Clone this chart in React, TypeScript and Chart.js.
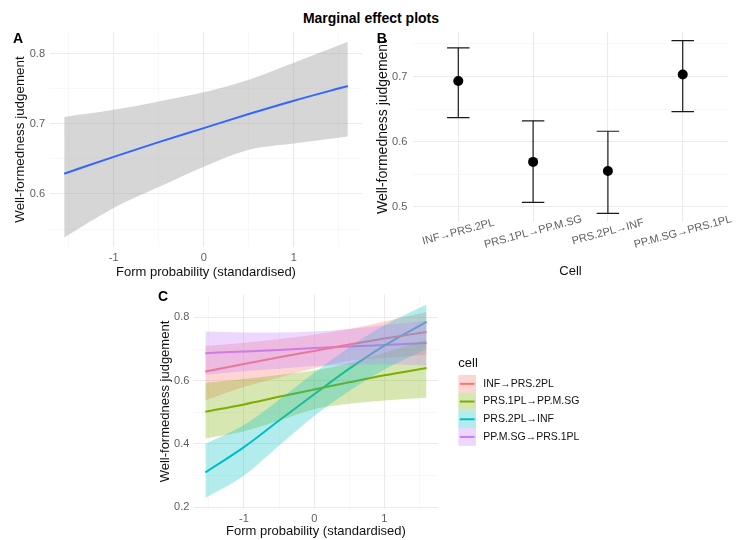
import React, { useEffect, useRef } from 'react';
import { Chart, registerables } from 'chart.js';

Chart.register(...registerables);

const FONT = "'Liberation Sans', Arial, Helvetica, sans-serif";
const TICK_COLOR = '#5E5E5E';
const TICK_SIZE = 11;
const GRID_MAJOR = '#EBEBEB';
const GRID_MINOR = '#F4F4F4';

// ---------- shared x values (form probability, standardised) ----------
const formProb = [-1.55, -1, -0.5, 0, 0.5, 1, 1.6];
const xTicksForm = [-1.5, -1, -0.5, 0, 0.5, 1, 1.5];
const xLabelsForm = [-1, 0, 1];

// ---------- Panel A ----------
const fitOverall = [0.629, 0.653, 0.674, 0.694, 0.714, 0.733, 0.754];
const upperOverall = [0.71, 0.72, 0.732, 0.745, 0.763, 0.787, 0.817];
const lowerOverall = [0.538, 0.58, 0.61, 0.639, 0.663, 0.672, 0.682];
const yTicksA = [0.55, 0.6, 0.65, 0.7, 0.75, 0.8];
const yLabelsA = [0.6, 0.7, 0.8];

// ---------- Panel B ----------
const cells = ['INF→PRS.2PL', 'PRS.1PL→PP.M.SG', 'PRS.2PL→INF', 'PP.M.SG→PRS.1PL'];
const cellEstimate = [0.693, 0.569, 0.555, 0.703];
const cellLower = [0.637, 0.507, 0.49, 0.646];
const cellUpper = [0.744, 0.632, 0.616, 0.755];
const yTicksB = [0.5, 0.55, 0.6, 0.65, 0.7, 0.75];
const yLabelsB = [0.5, 0.6, 0.7];

// ---------- Panel C ----------
const fitInfPrs2pl = [0.629, 0.653, 0.674, 0.694, 0.714, 0.733, 0.754];
const upInfPrs2pl = [0.71, 0.72, 0.732, 0.745, 0.763, 0.787, 0.817];
const loInfPrs2pl = [0.538, 0.58, 0.61, 0.639, 0.663, 0.672, 0.682];

const fitPrs1plPpMsg = [0.502, 0.525, 0.549, 0.572, 0.595, 0.617, 0.64];
const upPrs1plPpMsg = [0.593, 0.605, 0.618, 0.632, 0.655, 0.688, 0.73];
const loPrs1plPpMsg = [0.417, 0.44, 0.474, 0.51, 0.527, 0.537, 0.546];

const fitPrs2plInf = [0.31, 0.39, 0.474, 0.557, 0.638, 0.711, 0.786];
const upPrs2plInf = [0.401, 0.46, 0.54, 0.625, 0.705, 0.775, 0.841];
const loPrs2plInf = [0.229, 0.3, 0.395, 0.488, 0.567, 0.635, 0.7];

const fitPpMsgPrs1pl = [0.687, 0.692, 0.697, 0.703, 0.708, 0.713, 0.719];
const upPpMsgPrs1pl = [0.755, 0.752, 0.752, 0.755, 0.763, 0.775, 0.79];
const loPpMsgPrs1pl = [0.619, 0.63, 0.638, 0.646, 0.65, 0.652, 0.648];

const yTicksC = [0.2, 0.3, 0.4, 0.5, 0.6, 0.7, 0.8];
const yLabelsC = [0.2, 0.4, 0.6, 0.8];

const CELL_COLORS = ['#F8766D', '#7CAE00', '#00BFC4', '#C77CFF'];
const RIBBON_ALPHA = 0.3;

function rgba(hex: string, a: number) {
  const n = parseInt(hex.slice(1), 16);
  return `rgba(${(n >> 16) & 255},${(n >> 8) & 255},${n & 255},${a})`;
}

function fmt(v: number) {
  return String(Math.round(v * 100) / 100);
}

function pts(xs: number[], ys: number[]) {
  return xs.map((x, i) => ({ x, y: ys[i] }));
}

type AxisOpts = {
  min: number;
  max: number;
  ticks: number[];
  labels: number[];
  size: number;
  title: string;
  titleSize: number;
  titlePad: number;
  tickPad: number;
  showTickLabels?: boolean;
};

function linearAxis(dir: 'x' | 'y', o: AxisOpts): any {
  return {
    type: 'linear',
    position: dir === 'x' ? 'bottom' : 'left',
    min: o.min,
    max: o.max,
    afterBuildTicks: (s: any) => {
      s.ticks = o.ticks.map((v) => ({ value: v }));
    },
    afterFit: (s: any) => {
      if (dir === 'x') s.height = o.size;
      else s.width = o.size;
    },
    grid: {
      drawTicks: false,
      color: (c: any) => (c.tick && o.labels.includes(c.tick.value) ? GRID_MAJOR : GRID_MINOR),
      lineWidth: (c: any) => (c.tick && o.labels.includes(c.tick.value) ? 1.1 : 0.6),
    },
    border: { display: false },
    ticks: {
      display: o.showTickLabels !== false,
      autoSkip: false,
      maxRotation: 0,
      minRotation: 0,
      padding: o.tickPad,
      color: TICK_COLOR,
      font: { family: FONT, size: TICK_SIZE },
      callback: (v: number) => (o.labels.includes(v) ? fmt(v) : ''),
    },
    title: {
      display: true,
      text: o.title,
      color: '#111111',
      font: { family: FONT, size: o.titleSize },
      padding: dir === 'x' ? { top: 0, bottom: o.titlePad } : { top: o.titlePad, bottom: 0 },
    },
  };
}

const baseOptions = (padding: any) => ({
  animation: false,
  responsive: false,
  devicePixelRatio: 1,
  layout: { padding, autoPadding: false },
  plugins: { legend: { display: false }, tooltip: { enabled: false } },
  elements: { point: { radius: 0 } },
});

const hidden = 'rgba(0,0,0,0)';

function configA(): any {
  return {
    type: 'line',
    data: {
      datasets: [
        {
          data: pts(formProb, fitOverall),
          borderColor: '#3366FF',
          borderWidth: 2,
          pointRadius: 0,
          fill: false,
          order: 0,
          cubicInterpolationMode: 'monotone',
        },
        {
          data: pts(formProb, upperOverall),
          borderColor: hidden,
          borderWidth: 1,
          pointRadius: 0,
          fill: false,
          order: 1,
          cubicInterpolationMode: 'monotone',
        },
        {
          data: pts(formProb, lowerOverall),
          borderColor: hidden,
          borderWidth: 1,
          pointRadius: 0,
          fill: 1,
          backgroundColor: 'rgba(153,153,153,0.4)',
          order: 1,
          cubicInterpolationMode: 'monotone',
        },
      ],
    },
    options: {
      ...baseOptions({ left: 0, right: 10, top: 32, bottom: 0 }),
      scales: {
        x: linearAxis('x', {
          min: -1.7075,
          max: 1.7575,
          ticks: xTicksForm,
          labels: xLabelsForm,
          size: 43,
          title: 'Form probability (standardised)',
          titleSize: 13,
          titlePad: 9.3,
          tickPad: 4.2,
        }),
        y: linearAxis('y', {
          min: 0.5245,
          max: 0.831,
          ticks: yTicksA,
          labels: yLabelsA,
          size: 50,
          title: 'Well-formedness judgement',
          titleSize: 13.4,
          titlePad: 12,
          tickPad: 5,
        }),
      },
    },
  };
}

const cellLabelPlugin = {
  id: 'cellLabels',
  afterDraw(chart: any) {
    const { ctx, chartArea, scales } = chart;
    ctx.save();
    ctx.font = `${TICK_SIZE}px ${FONT}`;
    ctx.fillStyle = TICK_COLOR;
    ctx.textAlign = 'center';
    ctx.textBaseline = 'middle';
    cells.forEach((label, i) => {
      const x = scales.x.getPixelForValue(i + 1);
      ctx.save();
      ctx.translate(x, chartArea.bottom + 10);
      ctx.rotate((-15 * Math.PI) / 180);
      ctx.fillText(label, 0, 0);
      ctx.restore();
    });
    ctx.restore();
  },
};

function configB(): any {
  const capHalf = 0.15;
  const bars: any[] = [];
  cells.forEach((_, i) => {
    const x = i + 1;
    const segs = [
      [
        { x, y: cellLower[i] },
        { x, y: cellUpper[i] },
      ],
      [
        { x: x - capHalf, y: cellUpper[i] },
        { x: x + capHalf, y: cellUpper[i] },
      ],
      [
        { x: x - capHalf, y: cellLower[i] },
        { x: x + capHalf, y: cellLower[i] },
      ],
    ];
    segs.forEach((d) =>
      bars.push({
        data: d,
        borderColor: '#1A1A1A',
        borderWidth: 1.2,
        pointRadius: 0,
        fill: false,
        order: 1,
      })
    );
  });
  return {
    type: 'line',
    data: {
      datasets: [
        {
          data: cells.map((_, i) => ({ x: i + 1, y: cellEstimate[i] })),
          showLine: false,
          pointRadius: 5,
          pointBackgroundColor: '#000000',
          pointBorderColor: '#000000',
          pointBorderWidth: 0,
          order: 0,
        },
        ...bars,
      ],
    },
    options: {
      ...baseOptions({ left: 0, right: 16.4, top: 32, bottom: 0 }),
      scales: {
        x: linearAxis('x', {
          min: 0.4,
          max: 4.6,
          ticks: [1, 2, 3, 4],
          labels: [1, 2, 3, 4],
          size: 68,
          title: 'Cell',
          titleSize: 13,
          titlePad: 10.5,
          tickPad: 4,
          showTickLabels: false,
        }),
        y: linearAxis('y', {
          min: 0.4768,
          max: 0.7683,
          ticks: yTicksB,
          labels: yLabelsB,
          size: 47.4,
          title: 'Well-formedness judgement',
          titleSize: 14,
          titlePad: 8.6,
          tickPad: 6,
        }),
      },
    },
    plugins: [cellLabelPlugin],
  };
}

const cellLegendPlugin = {
  id: 'cellLegend',
  afterDraw(chart: any) {
    const { ctx, chartArea } = chart;
    const left = chartArea.right + 20.7;
    ctx.save();
    ctx.textAlign = 'left';
    ctx.textBaseline = 'middle';
    ctx.fillStyle = '#111111';
    ctx.font = `13px ${FONT}`;
    ctx.fillText('cell', left, 80);
    const top0 = 92;
    const h = 17.7;
    const w = 17.7;
    cells.forEach((name, k) => {
      const y = top0 + k * h;
      ctx.fillStyle = rgba(CELL_COLORS[k], RIBBON_ALPHA);
      ctx.fillRect(left, y, w, h);
      ctx.strokeStyle = CELL_COLORS[k];
      ctx.lineWidth = 2;
      ctx.beginPath();
      ctx.moveTo(left + 1.5, y + h / 2);
      ctx.lineTo(left + w - 1.5, y + h / 2);
      ctx.stroke();
      ctx.fillStyle = '#111111';
      ctx.font = `10.5px ${FONT}`;
      ctx.fillText(name, left + 25, y + h / 2);
    });
    ctx.restore();
  },
};

function configC(): any {
  const fits = [fitInfPrs2pl, fitPrs1plPpMsg, fitPrs2plInf, fitPpMsgPrs1pl];
  const ups = [upInfPrs2pl, upPrs1plPpMsg, upPrs2plInf, upPpMsgPrs1pl];
  const los = [loInfPrs2pl, loPrs1plPpMsg, loPrs2plInf, loPpMsgPrs1pl];
  const datasets: any[] = fits.map((f, k) => ({
    data: pts(formProb, f),
    borderColor: CELL_COLORS[k],
    borderWidth: 2,
    pointRadius: 0,
    fill: false,
    order: 10,
    cubicInterpolationMode: 'monotone',
  }));
  fits.forEach((_, k) => {
    const upIdx = datasets.length;
    datasets.push({
      data: pts(formProb, ups[k]),
      borderColor: hidden,
      borderWidth: 1,
      pointRadius: 0,
      fill: false,
      order: 5 - k,
      cubicInterpolationMode: 'monotone',
    });
    datasets.push({
      data: pts(formProb, los[k]),
      borderColor: hidden,
      borderWidth: 1,
      pointRadius: 0,
      fill: upIdx,
      backgroundColor: rgba(CELL_COLORS[k], RIBBON_ALPHA),
      order: 5 - k,
      cubicInterpolationMode: 'monotone',
    });
  });
  return {
    type: 'line',
    data: { datasets },
    options: {
      ...baseOptions({ left: 0, right: 306.4, top: 9.7, bottom: 0 }),
      scales: {
        x: linearAxis('x', {
          min: -1.7075,
          max: 1.7575,
          ticks: xTicksForm,
          labels: xLabelsForm,
          size: 31.5,
          title: 'Form probability (standardised)',
          titleSize: 13,
          titlePad: 1.2,
          tickPad: 4,
        }),
        y: linearAxis('y', {
          min: 0.196,
          max: 0.872,
          ticks: yTicksC,
          labels: yLabelsC,
          size: 44.3,
          title: 'Well-formedness judgement',
          titleSize: 13,
          titlePad: 7.2,
          tickPad: 5,
        }),
      },
    },
    plugins: [cellLegendPlugin],
  };
}

function ChartCanvas(props: { left: number; top: number; width: number; height: number; make: () => any }) {
  const ref = useRef<HTMLCanvasElement | null>(null);
  useEffect(() => {
    if (!ref.current) return;
    const chart = new Chart(ref.current, props.make());
    return () => chart.destroy();
  }, []);
  return (
    <canvas
      ref={ref}
      width={props.width}
      height={props.height}
      style={{ position: 'absolute', left: props.left, top: props.top, width: props.width, height: props.height }}
    />
  );
}

const labelStyle = (left: number, top: number): React.CSSProperties => ({
  position: 'absolute',
  left,
  top,
  fontFamily: FONT,
  fontWeight: 'bold',
  fontSize: 14,
  lineHeight: '16px',
  color: '#000',
});

export default function App() {
  return (
    <div
      style={{
        position: 'fixed',
        left: 0,
        top: 0,
        width: 744,
        height: 540,
        background: '#ffffff',
        overflow: 'hidden',
      }}
    >
      <div style={{ ...labelStyle(0, 10.3), width: 742, textAlign: 'center' }}>Marginal effect plots</div>
      <ChartCanvas left={0} top={0} width={372} height={290} make={configA} />
      <ChartCanvas left={366} top={0} width={378} height={290} make={configB} />
      <ChartCanvas left={150} top={283} width={594} height={257} make={configC} />
      <div style={labelStyle(13, 29.5)}>A</div>
      <div style={labelStyle(376.7, 30.3)}>B</div>
      <div style={labelStyle(158, 288)}>C</div>
    </div>
  );
}
